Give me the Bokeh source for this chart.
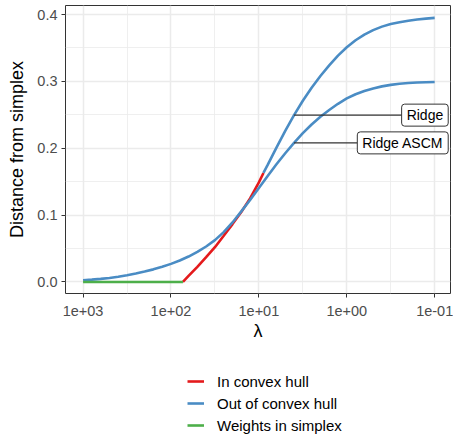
from bokeh.plotting import figure
from bokeh.layouts import column
from bokeh.models import Range1d, FixedTicker, Legend, LegendItem, Label
from bokeh.embed import file_html
from bokeh.resources import INLINE

# x values are log10(lambda); axis is reversed (1e+03 on the left)
ascm_log_lambda = [3.0, 2.9, 2.8, 2.7, 2.6, 2.5, 2.4, 2.3, 2.2, 2.1, 2.0, 1.9, 1.8, 1.7, 1.6, 1.5,
                   1.4, 1.3, 1.2, 1.1, 1.0, 0.9, 0.8, 0.7, 0.6, 0.5, 0.4, 0.3, 0.2, 0.1, 0.0,
                   -0.1, -0.2, -0.3, -0.4, -0.5, -0.6, -0.7, -0.8, -0.9, -1.0]
ascm_dist = [0.0025, 0.0034, 0.0046, 0.0060, 0.0078, 0.0100, 0.0126, 0.0155, 0.0188, 0.0226,
             0.0270, 0.0320, 0.0380, 0.0450, 0.0530, 0.0625, 0.0745, 0.0890, 0.1055, 0.1225,
             0.1405, 0.1585, 0.1760, 0.1925, 0.2080, 0.2225, 0.2355, 0.2470, 0.2572, 0.2665,
             0.2745, 0.2808, 0.2857, 0.2895, 0.2925, 0.2948, 0.2964, 0.2975, 0.2983, 0.2988, 0.2991]

ridge_simplex_log_lambda = [3.0, 1.864]
ridge_simplex_dist = [0.0, 0.0]

ridge_hull_log_lambda = [1.864, 1.8, 1.7, 1.6, 1.5, 1.4, 1.3, 1.2, 1.1, 1.0, 0.948]
ridge_hull_dist = [0.0, 0.009, 0.0225, 0.037, 0.052, 0.069, 0.0865, 0.1045, 0.125, 0.149, 0.163]

ridge_out_log_lambda = [0.948, 0.9, 0.8, 0.7, 0.6, 0.5, 0.4, 0.3, 0.2, 0.1, 0.0, -0.1, -0.2, -0.3,
                        -0.4, -0.5, -0.6, -0.7, -0.8, -0.9, -1.0]
ridge_out_dist = [0.163, 0.175, 0.201, 0.226, 0.2495, 0.271, 0.2905, 0.308, 0.324, 0.3385, 0.351,
                  0.3615, 0.370, 0.3767, 0.3819, 0.3859, 0.3885, 0.3907, 0.3925, 0.3939, 0.395]

x_ticks = [3, 2, 1, 0, -1]
x_tick_labels = ["1e+03", "1e+02", "1e+01", "1e+00", "1e-01"]
x_minor = [2.5, 1.5, 0.5, -0.5]
y_ticks = [0.0, 0.1, 0.2, 0.3, 0.4]
y_tick_labels = ["0.0", "0.1", "0.2", "0.3", "0.4"]
y_minor = [0.05, 0.15, 0.25, 0.35]

label_texts = ["Ridge", "Ridge ASCM"]
label_point_x = [0.6, 0.6]
label_point_y = [ridge_out_dist[4], ascm_dist[24]]
label_box_left_x = [-0.630, -0.118]
label_box_right_x = [-1.154, -1.154]

legend_labels = ["In convex hull", "Out of convex hull", "Weights in simplex"]
RED, BLUE, GREEN = "#E41A1C", "#4A8CC4", "#4DAF4A"

FONT = "Liberation Sans"
X_RANGE = (3.2, -1.18)

p = figure(width=453, height=350, output_backend="svg", toolbar_location=None,
           x_range=Range1d(*X_RANGE), y_range=Range1d(-0.0173, 0.4135),
           min_border_left=65, min_border_right=3, min_border_top=5, min_border_bottom=57)
p.background_fill_color = "white"
p.border_fill_color = "white"
p.outline_line_color = "#333333"
p.outline_line_width = 1

# grids
p.xgrid.ticker = FixedTicker(ticks=x_ticks, minor_ticks=x_minor)
p.ygrid.ticker = FixedTicker(ticks=y_ticks, minor_ticks=y_minor)
for g in (p.xgrid, p.ygrid):
    g.grid_line_color = "#EBEBEB"
    g.grid_line_width = 1.5
    g.minor_grid_line_color = "#EBEBEB"
    g.minor_grid_line_width = 0.8

# axes
p.xaxis.ticker = FixedTicker(ticks=x_ticks)
p.xaxis.major_label_overrides = dict(zip(x_ticks, x_tick_labels))
p.yaxis.ticker = FixedTicker(ticks=y_ticks)
p.yaxis.major_label_overrides = dict(zip(y_ticks, y_tick_labels))
p.xaxis.axis_label = "λ"
p.yaxis.axis_label = "Distance from simplex"
for ax in (p.xaxis, p.yaxis):
    ax.axis_line_color = None
    ax.major_tick_line_color = "#333333"
    ax.major_tick_out = 4
    ax.major_tick_in = 0
    ax.minor_tick_line_color = None
    ax.major_label_text_color = "#4D4D4D"
    ax.major_label_text_font = FONT
    ax.major_label_text_font_size = "14.5px"
    ax.axis_label_text_font = FONT
    ax.axis_label_text_font_size = "18px"
    ax.axis_label_text_font_style = "normal"
    ax.axis_label_text_color = "black"
p.yaxis.major_label_standoff = 4
p.xaxis.major_label_standoff = 8
p.yaxis.axis_label_standoff = 7
p.xaxis.axis_label_standoff = 2

LW = 2.6
r_red = p.line(ridge_hull_log_lambda, ridge_hull_dist, line_color=RED, line_width=LW)
r_blue1 = p.line(ridge_out_log_lambda, ridge_out_dist, line_color=BLUE, line_width=LW)
r_blue2 = p.line(ascm_log_lambda, ascm_dist, line_color=BLUE, line_width=LW)
r_green = p.line(ridge_simplex_log_lambda, ridge_simplex_dist, line_color=GREEN, line_width=LW)

# repel-style label segments
p.segment(x0=label_point_x, y0=label_point_y, x1=label_box_left_x, y1=label_point_y,
          line_color="#333333", line_width=1.2)
for txt, xr, yy in zip(label_texts, label_box_right_x, label_point_y):
    p.add_layout(Label(x=xr, y=yy, text=txt, text_align="right", text_baseline="middle",
                       text_font=FONT, text_font_size="14px", text_color="black",
                       background_fill_color="white", border_line_color="#333333",
                       border_line_width=1, border_radius=3,
                       padding=dict(left=5, right=5, top=3, bottom=3)))

# legend strip below the chart (its frame aligns with the chart frame in the column)
lg = figure(width=453, height=85, output_backend="svg", toolbar_location=None,
            x_axis_type=None, y_axis_type=None,
            x_range=Range1d(*X_RANGE), y_range=Range1d(10, 11),
            min_border_left=0, min_border_right=0, min_border_top=0, min_border_bottom=0)
lg.outline_line_color = None
lg.grid.visible = False
lg.border_fill_color = "white"
lg.background_fill_color = "white"
# same series, kept outside the strip's visible y range: only their legend keys show
k_red = lg.line(ridge_hull_log_lambda, ridge_hull_dist, line_color=RED, line_width=LW)
k_blue = lg.line(ascm_log_lambda, ascm_dist, line_color=BLUE, line_width=LW)
k_green = lg.line(ridge_simplex_log_lambda, ridge_simplex_dist, line_color=GREEN, line_width=LW)
legend = Legend(items=[LegendItem(label=legend_labels[0], renderers=[k_red]),
                       LegendItem(label=legend_labels[1], renderers=[k_blue]),
                       LegendItem(label=legend_labels[2], renderers=[k_green])],
                orientation="vertical", location=(122, 0))
legend.label_text_font = FONT
legend.label_text_font_size = "15px"
legend.label_text_color = "black"
legend.glyph_width = 17
legend.glyph_height = 20
legend.label_height = 20
legend.label_standoff = 13
legend.spacing = 2
legend.padding = 0
legend.margin = 0
legend.border_line_color = None
legend.background_fill_color = None
lg.add_layout(legend, "center")

layout = column(p, lg, spacing=0)
open("out.html", "w").write(file_html(layout, INLINE))
